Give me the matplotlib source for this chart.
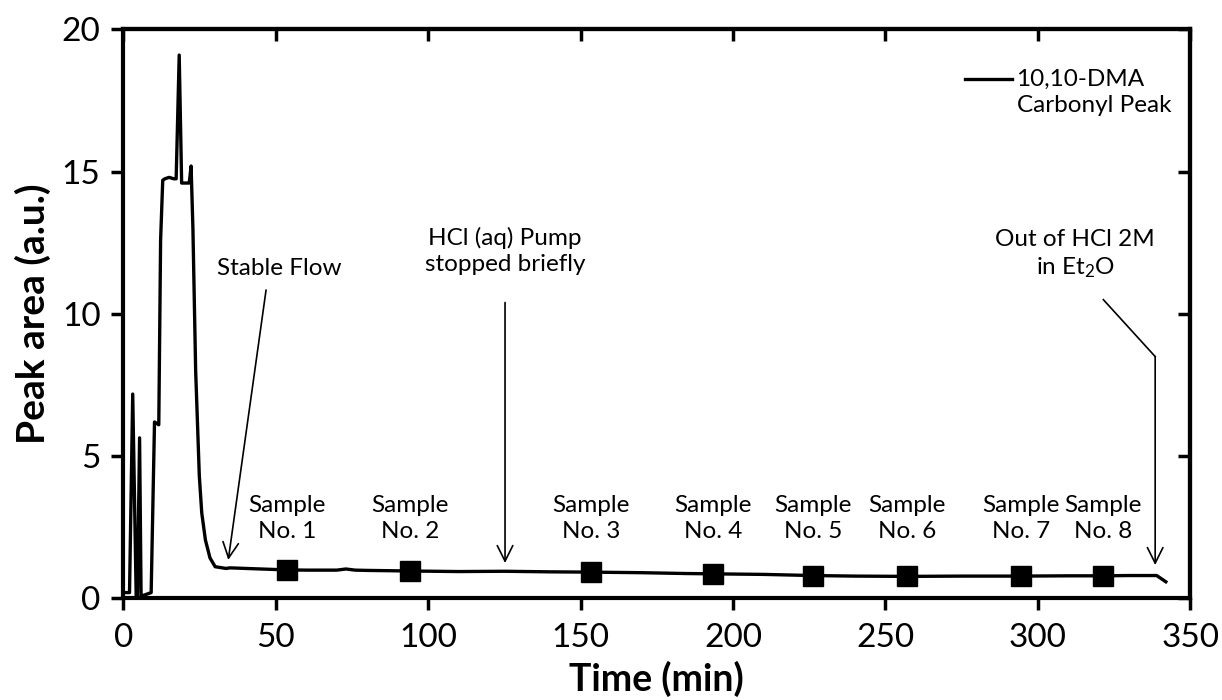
import matplotlib
matplotlib.use("Agg")
import matplotlib.pyplot as plt
from matplotlib.lines import Line2D

plt.rcParams['font.family'] = ['Lato', 'DejaVu Sans']
plt.rcParams['mathtext.fontset'] = 'custom'
plt.rcParams['mathtext.rm'] = 'Lato'
plt.rcParams['mathtext.it'] = 'Lato:italic'
plt.rcParams['mathtext.bf'] = 'Lato:bold'

# IR trace of the carbonyl peak (time in min, peak area in a.u.)
time_min = [0, 2.0, 3.05, 4.2, 4.6, 5.3, 5.8, 6.5, 9.1, 10.2, 11.6, 12.2, 12.9, 13.6,
            15.0, 16.5, 17.3, 18.3, 19.1, 21.1, 21.6, 22.2, 22.8, 23.7, 24.9, 25.7,
            26.9, 28.4, 30.1, 33.6, 35, 40, 53, 60, 70, 73, 76, 80, 94, 110, 125,
            140, 153, 170, 185, 193, 210, 226, 240, 257, 275, 294, 310, 321, 330,
            339, 342]
peak_area = [0.2, 0.2, 7.18, 0.0, 0.0, 5.64, 0.0, 0.1, 0.2, 6.2, 6.1, 12.6, 14.7, 14.75,
             14.8, 14.75, 14.75, 19.1, 14.6, 14.6, 14.6, 15.2, 13.0, 8.0, 4.3, 3.0,
             2.05, 1.42, 1.11, 1.05, 1.07, 1.05, 1.0, 0.99, 0.99, 1.03, 0.99, 0.98,
             0.96, 0.94, 0.95, 0.93, 0.92, 0.9, 0.87, 0.86, 0.84, 0.8, 0.78, 0.77,
             0.78, 0.78, 0.79, 0.79, 0.8, 0.8, 0.58]

# sampling points
sample_time = [53.7, 94.0, 153.4, 193.5, 226.3, 257.1, 294.4, 321.5]
sample_area = [0.98, 0.95, 0.91, 0.86, 0.8, 0.77, 0.78, 0.79]
sample_labels = ["Sample\nNo. %d" % (i + 1) for i in range(8)]

x_ticks = list(range(0, 351, 50))
y_ticks = list(range(0, 21, 5))

fig = plt.figure(figsize=(12.22, 7.0), dpi=100)
ax = fig.add_axes([0.101, 0.1453, 0.873, 0.8126])

ax.plot(time_min, peak_area, color='black', lw=2.4, solid_joinstyle='round')
ax.plot(sample_time, sample_area, linestyle='none', marker='s', ms=14,
        color='black')

fs = 17.5
for t, lab in zip(sample_time, sample_labels):
    ax.text(t, 2.8, lab, ha='center', va='center', fontsize=fs,
            linespacing=1.3)

arrow = dict(arrowstyle='->', lw=1.2, color='black', mutation_scale=28,
             shrinkA=0, shrinkB=0)

ax.text(51, 11.6, "Stable Flow", ha='center', va='center', fontsize=fs)
ax.annotate("", xy=(34.4, 1.35), xytext=(46.8, 10.84), arrowprops=arrow)

ax.text(125.2, 12.2, "HCl (aq) Pump\nstopped briefly", ha='center',
        va='center', fontsize=fs, linespacing=1.3)
ax.annotate("", xy=(125.2, 1.24), xytext=(125.2, 10.4), arrowprops=arrow)

ax.text(312.3, 12.1, "Out of HCl 2M\nin Et$_2$O", ha='center', va='center',
        fontsize=fs, linespacing=1.3)
ax.plot([321.5, 338.5], [10.5, 8.5], color='black', lw=1.2)
ax.annotate("", xy=(338.5, 1.17), xytext=(338.5, 8.5), arrowprops=arrow)

# legend drawn the way the spreadsheet does it
ax.add_line(Line2D([0.789, 0.833], [0.913, 0.913], transform=ax.transAxes,
                   color='black', lw=2.4))
ax.text(0.837, 0.913, "10,10-DMA", transform=ax.transAxes, ha='left',
        va='center', fontsize=fs)
ax.text(0.838, 0.866, "Carbonyl Peak", transform=ax.transAxes, ha='left',
        va='center', fontsize=fs)

ax.set_xlim(0, 350)
ax.set_ylim(0, 20)
ax.set_xticks(x_ticks)
ax.set_yticks(y_ticks)
ax.tick_params(axis='both', which='major', labelsize=24, length=8.5,
               width=2.5, direction='out')
ax.tick_params(axis='x', pad=9)
ax.tick_params(axis='y', pad=8)

# mirrored ticks on top / right, pointing inwards
top = ax.secondary_xaxis('top')
top.set_xticks(x_ticks)
top.tick_params(direction='in', length=8.5, width=2.5, labeltop=False)
right = ax.secondary_yaxis('right')
right.set_yticks(y_ticks)
right.tick_params(direction='in', length=8.5, width=2.5, labelright=False)
for a in (ax, top, right):
    for sp in a.spines.values():
        sp.set_linewidth(3)

ax.set_xlabel("Time (min)", fontsize=27, fontweight='bold', labelpad=6)
ax.set_ylabel("Peak area (a.u.)", fontsize=28, fontweight='bold', labelpad=8)

fig.savefig("out.png", dpi=100)
